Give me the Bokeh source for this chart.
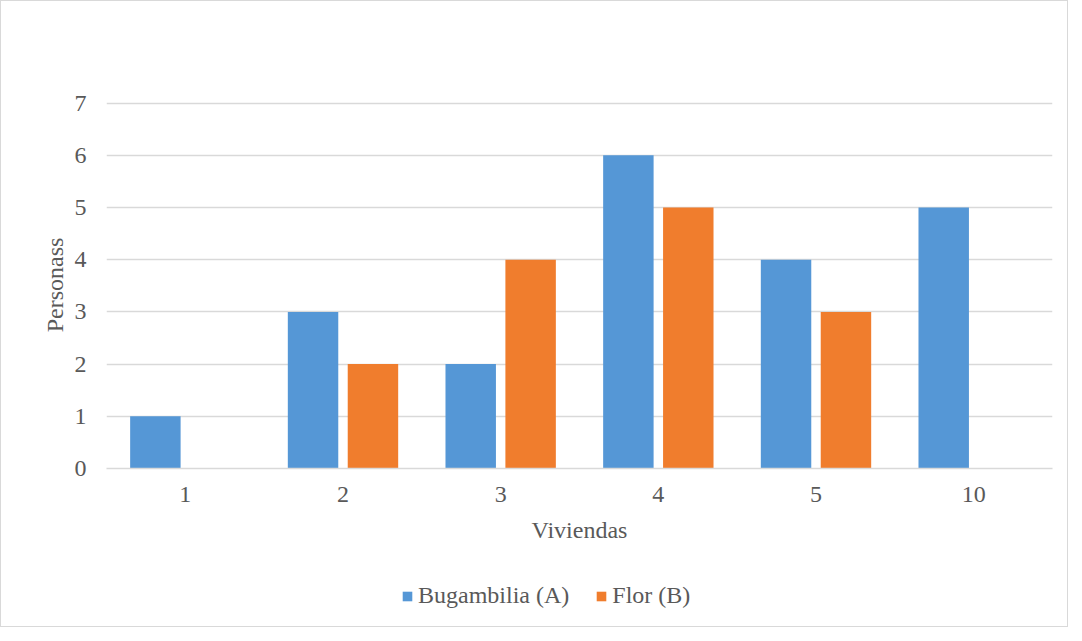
from bokeh.plotting import figure
from bokeh.layouts import column
from bokeh.models import ColumnDataSource, Legend, LegendItem, Range1d
from bokeh.transform import dodge
from bokeh.embed import file_html
from bokeh.resources import INLINE

viviendas = ["1", "2", "3", "4", "5", "10"]
bugambilia = [1, 3, 2, 6, 4, 5]
flor = [0, 2, 4, 5, 3, 0]
series_names = ["Bugambilia (A)", "Flor (B)"]
y_ticks = [0, 1, 2, 3, 4, 5, 6, 7]

FONT = "Liberation Serif"
FS = "24px"
TXT = "#595959"
GRID = "#d9d9d9"
BLUE = "#5597d6"
ORANGE = "#f07d2d"

src = ColumnDataSource(dict(x=viviendas, a=bugambilia, b=flor))

p = figure(width=1066, height=560, x_range=viviendas, y_range=Range1d(0, 7.03),
           output_backend="svg", toolbar_location=None,
           min_border_left=105, min_border_right=15,
           min_border_top=100, min_border_bottom=93)
p.outline_line_color = None
p.background_fill_color = "white"
p.border_fill_color = "white"

p.vbar(x=dodge("x", -0.19, range=p.x_range), top="a", width=0.32, source=src,
       fill_color=BLUE, line_color=None)
p.vbar(x=dodge("x", 0.19, range=p.x_range), top="b", width=0.32, source=src,
       fill_color=ORANGE, line_color=None)

# axes
p.xaxis.axis_label = "Viviendas"
p.yaxis.axis_label = "Personass"
for ax in (p.xaxis, p.yaxis):
    ax.axis_label_text_font = FONT
    ax.axis_label_text_font_size = FS
    ax.axis_label_text_font_style = "normal"
    ax.axis_label_text_color = TXT
    ax.major_label_text_font = FONT
    ax.major_label_text_font_size = FS
    ax.major_label_text_color = TXT
    ax.major_tick_line_color = None
    ax.minor_tick_line_color = None
    ax.major_tick_out = 0
    ax.major_tick_in = 0
p.yaxis.axis_line_color = None
p.yaxis.ticker = y_ticks
p.yaxis.major_label_standoff = 20
p.yaxis.axis_label_standoff = 4
p.xaxis.axis_line_color = GRID
p.xaxis.axis_line_width = 1.5
p.xaxis.major_label_standoff = 18
p.xaxis.axis_label_standoff = 12

p.xgrid.grid_line_color = None
p.ygrid.grid_line_color = GRID
p.ygrid.grid_line_width = 1.5

# legend strip (bars here lie outside its visible y range; only the legend shows)
pl = figure(width=1066, height=65, x_range=p.x_range, y_range=Range1d(1000, 1001),
            output_backend="svg", toolbar_location=None,
            x_axis_location=None, y_axis_location=None, min_border=0)
pl.grid.visible = False
pl.outline_line_color = None
pl.border_fill_color = "white"
pl.background_fill_color = "white"
la = pl.vbar(x="x", top="a", width=0.32, source=src, fill_color=BLUE, line_color=None)
lb = pl.vbar(x="x", top="b", width=0.32, source=src, fill_color=ORANGE, line_color=None)
legend = Legend(items=[LegendItem(label=series_names[0], renderers=[la]),
                       LegendItem(label=series_names[1], renderers=[lb])],
                orientation="horizontal", location=(295, 17),
                label_text_font=FONT, label_text_font_size=FS,
                label_text_color=TXT, glyph_width=12, glyph_height=12,
                label_standoff=5, spacing=26, border_line_color=None,
                background_fill_alpha=0, padding=4, margin=0)
pl.add_layout(legend, "center")

layout = column(p, pl, spacing=0, styles={"border": "1px solid #d9d9d9"})

open("out.html", "w").write(file_html(layout, INLINE))
